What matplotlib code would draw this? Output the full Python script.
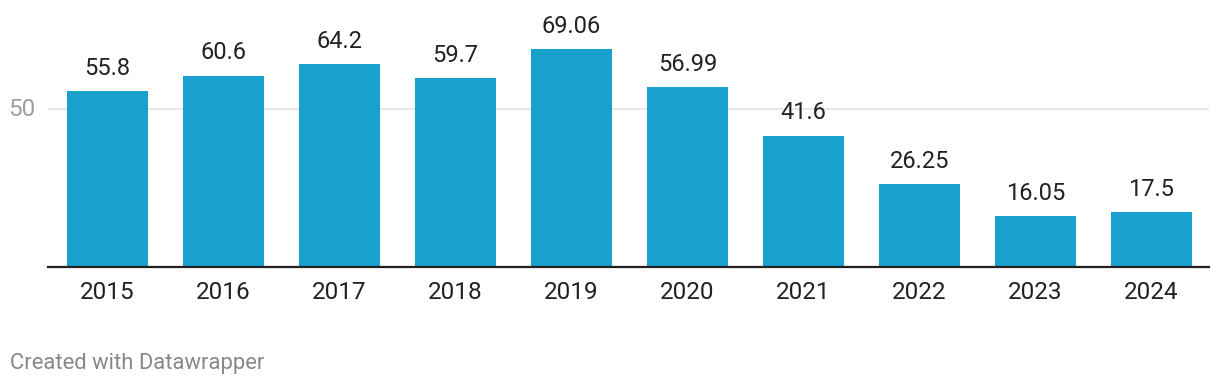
import matplotlib.pyplot as plt

years = ["2015", "2016", "2017", "2018", "2019", "2020", "2021", "2022", "2023", "2024"]
values = [55.8, 60.6, 64.2, 59.7, 69.06, 56.99, 41.6, 26.25, 16.05, 17.5]
labels = ["55.8", "60.6", "64.2", "59.7", "69.06", "56.99", "41.6", "26.25", "16.05", "17.5"]

plt.rcParams['font.family'] = ['Roboto', 'DejaVu Sans']

W, H = 1220, 388
fig = plt.figure(figsize=(W / 100, H / 100), dpi=100)
ax = fig.add_axes([48 / W, 121 / H, (1209 - 48) / W, 267 / H])

x = list(range(len(years)))
ax.bar(x, values, width=0.70, color="#19a1cd", zorder=2)
ax.set_xlim(-0.513, 9.496)
ax.set_ylim(0, 267 / 3.16)

ax.axhline(50, color="#e3e3e3", lw=1.2, zorder=1)
ax.text(-0.62, 50, "50", ha="right", va="center", fontsize=17.5, color="#a0a0a0")

for xi, v, lab in zip(x, values, labels):
    ax.annotate(lab, (xi, v), xytext=(0, 8), textcoords="offset points",
                ha="center", va="bottom", fontsize=17, color="#222222")

for s in ["top", "right", "left"]:
    ax.spines[s].set_visible(False)
ax.spines["bottom"].set_linewidth(1.6)
ax.spines["bottom"].set_color("#222222")
ax.set_yticks([])
ax.set_xticks(x)
ax.set_xticklabels(years, fontsize=17.5, color="#222222")
ax.tick_params(axis="x", length=0, pad=10)

fig.text(10 / W, 1 - 364 / H, "Created with Datawrapper", fontsize=15.8,
         color="#888888", ha="left", va="center")

fig.savefig("out.png", dpi=100)
